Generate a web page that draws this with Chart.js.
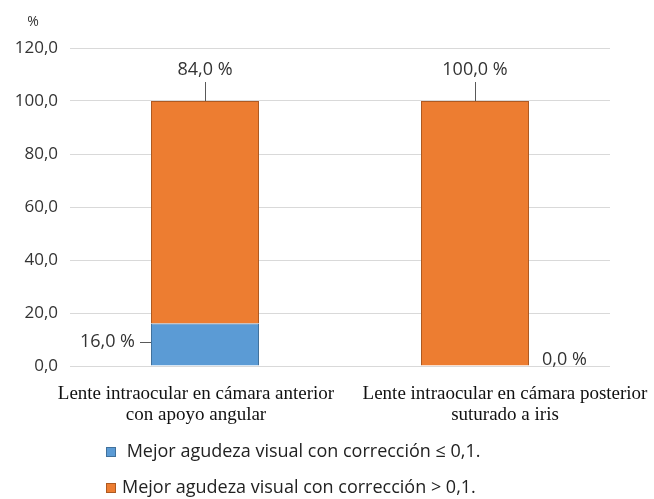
<!DOCTYPE html>
<html>
<head>
<meta charset="utf-8">
<script src="https://cdn.jsdelivr.net/npm/chart.js@4"></script>
<style>
  html, body { margin: 0; padding: 0; background: #fff; }
  #wrap { width: 654px; height: 499px; }
</style>
</head>
<body>
<div id="wrap"><canvas id="myChart" width="654" height="499"></canvas></div>
<script>
const categorias = [
    ['Lente intraocular en cámara anterior', 'con apoyo angular'],
    ['Lente intraocular en cámara posterior', 'suturado a iris']
];
const serieBaja = [16.0, 0.0];
const serieAlta = [84.0, 100.0];
const nombresSeries = [
    'Mejor agudeza visual con corrección ≤ 0,1.',
    'Mejor agudeza visual con corrección > 0,1.'
];
const ticksY = [0, 20, 40, 60, 80, 100, 120];

const fmt = v => v.toFixed(1).replace('.', ',');

// etiquetas de valores, categorias, leyenda y el "%" del eje
const extras = {
    id: 'extras',
    afterDatasetsDraw(chart) {
        const c = chart.ctx;
        const area = chart.chartArea;
        const x = chart.scales.x;
        c.save();

        // "%" arriba del eje
        c.fillStyle = '#333';
        c.font = '14px "Open Sans"';
        c.textAlign = 'center';
        c.textBaseline = 'middle';
        c.fillText('%', 33, 22);

        // valores
        c.font = '18px "Open Sans"';
        c.strokeStyle = '#595959';
        c.lineWidth = 1;
        const meta0 = chart.getDatasetMeta(0);
        const meta1 = chart.getDatasetMeta(1);
        meta1.data.forEach((bar, i) => {
            const v = serieAlta[i];
            c.textAlign = 'center';
            c.fillText(fmt(v) + ' %', bar.x, 70);
            c.beginPath();
            c.moveTo(Math.round(bar.x) + 0.5, 82);
            c.lineTo(Math.round(bar.x) + 0.5, bar.y);
            c.stroke();
        });
        meta0.data.forEach((bar, i) => {
            const v = serieBaja[i];
            const left = bar.x - bar.width / 2;
            const right = bar.x + bar.width / 2;
            if (v > 0) {
                const ym = (bar.y + bar.base) / 2 - 3;
                c.textAlign = 'right';
                c.fillText(fmt(v) + ' %', left - 16, ym);
                c.beginPath();
                c.moveTo(left - 11, Math.round(ym) + 0.5);
                c.lineTo(left, Math.round(ym) + 0.5);
                c.stroke();
            } else {
                c.textAlign = 'left';
                c.fillText(fmt(v) + ' %', right + 13, bar.base - 6);
            }
        });

        // categorias
        const desplaz = [-9, 30];
        c.font = '19px "Liberation Serif"';
        c.fillStyle = '#111';
        c.textAlign = 'center';
        c.textBaseline = 'alphabetic';
        categorias.forEach((lineas, i) => {
            const cx = x.getPixelForValue(i) + desplaz[i];
            lineas.forEach((t, j) => {
                c.fillText(t, cx, area.bottom + 33 + j * 21);
            });
        });

        // leyenda
        c.font = '18px "Open Sans"';
        c.textAlign = 'left';
        c.textBaseline = 'middle';
        const filasY = [452, 488];
        const textoX = [122, 122];
        chart.data.datasets.forEach((ds, i) => {
            const y = filasY[i];
            c.fillStyle = ds.backgroundColor;
            c.fillRect(106, y - 5, 10, 10);
            c.strokeStyle = ds.borderColor;
            c.strokeRect(106.5, y - 4.5, 9, 9);
            c.fillStyle = '#222';
            c.fillText((i === 0 ? ' ' : '') + ds.label, textoX[i], y);
        });
        c.restore();
    }
};

const ctx = document.getElementById('myChart').getContext('2d');
const myChart = new Chart(ctx, {
    type: 'bar',
    data: {
        labels: categorias,
        datasets: [{
            label: nombresSeries[0],
            data: serieBaja,
            backgroundColor: '#5B9BD5',
            borderColor: '#41719C',
            borderWidth: 1,
            barPercentage: 0.8,
            categoryPercentage: 0.5
        }, {
            label: nombresSeries[1],
            data: serieAlta,
            backgroundColor: '#ED7D31',
            borderColor: '#AE5A21',
            borderWidth: 1,
            barPercentage: 0.8,
            categoryPercentage: 0.5
        }]
    },
    options: {
        responsive: false,
        animation: false,
        layout: {
            padding: { top: 48, right: 44, bottom: 133, left: 0 }
        },
        scales: {
            x: {
                stacked: true,
                display: false
            },
            y: {
                stacked: true,
                min: 0,
                max: 120,
                afterFit: s => { s.width = 70; },
                afterBuildTicks: s => { s.ticks = ticksY.map(v => ({ value: v })); },
                border: { display: false },
                grid: { color: '#d9d9d9', drawTicks: false },
                ticks: {
                    padding: 12,
                    color: '#333',
                    font: { family: 'Open Sans', size: 17 },
                    callback: v => fmt(v)
                }
            }
        },
        plugins: {
            legend: { display: false },
            tooltip: { enabled: false }
        }
    },
    plugins: [extras]
});
</script>
</body>
</html>
